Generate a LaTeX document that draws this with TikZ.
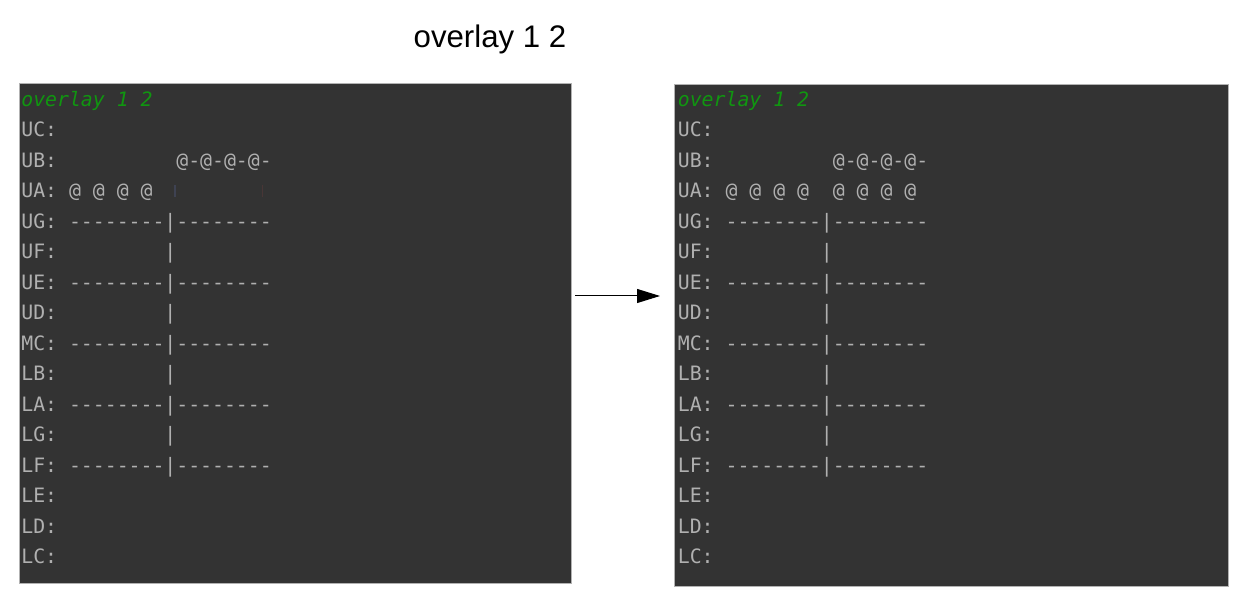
\documentclass[tikz,border=0pt]{standalone}
\usepackage{fontspec}
\setmainfont{Liberation Sans}
\newfontfamily\termfont{DejaVu Sans Mono}
\usetikzlibrary{arrows.meta}
\definecolor{termbg}{RGB}{51,51,51}
\definecolor{termfg}{RGB}{176,176,176}
\definecolor{termgreen}{RGB}{16,150,16}
\begin{document}
\begin{tikzpicture}
[x=0.5pt, y=-0.5pt,
       panel/.style={fill=termbg, draw=gray!60, line width=0.5pt},
       term/.style={anchor=base west, inner sep=0pt, text=termfg,
                    font=\termfont\fontsize{9.9}{12}\selectfont},
       prompt/.style={term, text=termgreen,
                    font=\termfont\itshape\fontsize{9.9}{12}\selectfont}]
  \useasboundingbox (0,0) rectangle (1247,613);
  \node (title) [anchor=base, font=\fontsize{15.6}{18}\selectfont] at (490,48) {overlay 1 2};
  % terminal screens
  \draw[panel] (19,84) rectangle (571,584);
  \draw[panel] (674,85) rectangle (1228,587);
  \foreach \p/\x in {L/21, R/677.5} {
    \node (\p0) [prompt] at (\x,106.5) {overlay 1 2};
    \foreach \i/\txt in {1/UC:, 2/UB:~~~~~~~~~~@-@-@-@-,
        4/UG:~--------|--------, 5/UF:~~~~~~~~~|, 6/UE:~--------|--------,
        7/UD:~~~~~~~~~|, 8/MC:~--------|--------, 9/LB:~~~~~~~~~|,
        10/LA:~--------|--------, 11/LG:~~~~~~~~~|, 12/LF:~--------|--------,
        13/LE:, 14/LD:, 15/LC:}
      \node (\p\i) [term] at (\x,106.5+30.5*\i) {\txt};
  }
  \node (L3) [term] at (21,198) {UA:~@~@~@~@};
  \node (R3) [term] at (677.5,198) {UA:~@~@~@~@~~@~@~@~@};
  % ghost pixels
  \draw[line width=1pt, color={rgb,255:red,62;green,66;blue,82}] (175,185) -- (175,197);
  \draw[line width=0.5pt, color={rgb,255:red,72;green,54;blue,54}] (262,185) -- (262,197);
  % step
  \coordinate (from) at (575,296);
  \coordinate (to) at (660,296);
  \draw[-{Triangle[length=11.5pt,width=7pt]}, line width=0.5pt] (from) -- (to);
\end{tikzpicture}
\end{document}
